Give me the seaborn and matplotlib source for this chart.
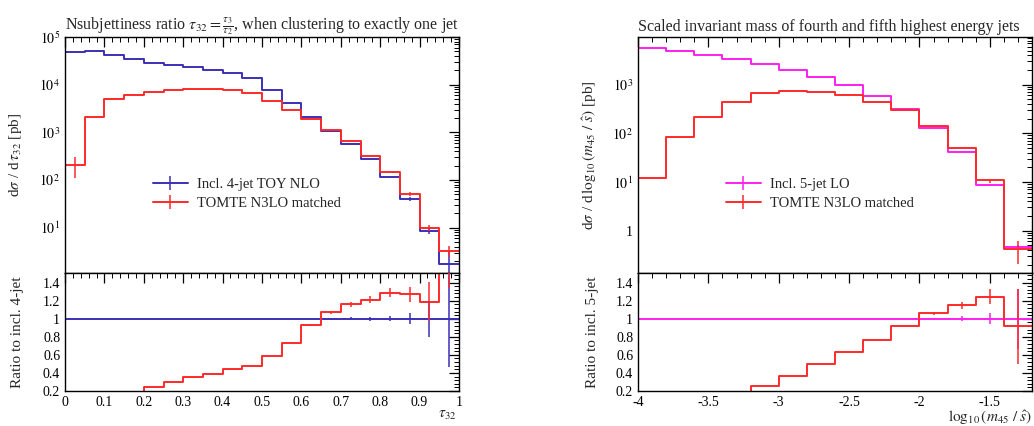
import numpy as np
import pandas as pd
import matplotlib
matplotlib.use("Agg")
import matplotlib.pyplot as plt
import seaborn as sns
from matplotlib.lines import Line2D
from matplotlib.ticker import MultipleLocator, LogLocator, NullFormatter, FormatStrFormatter

sns.set_theme(style="white")
plt.rcParams['font.family'] = ['Liberation Serif', 'DejaVu Serif']
plt.rcParams['mathtext.fontset'] = 'stix'

# ---------------- data: left panel (tau32) ----------------
tau_edges = [0.00, 0.05, 0.10, 0.15, 0.20, 0.25, 0.30, 0.35, 0.40, 0.45, 0.50,
             0.55, 0.60, 0.65, 0.70, 0.75, 0.80, 0.85, 0.90, 0.95, 1.00]
tau_nlo = [4.9e4, 5.2e4, 4.1e4, 3.4e4, 2.9e4, 2.6e4, 2.3e4, 2.05e4, 1.8e4, 1.4e4,
           7.8e3, 4.2e3, 2.1e3, 1.07e3, 5.7e2, 2.7e2, 1.16e2, 40, 8.6, 1.7]
tau_nlo_err = [0, 0, 0, 0, 0, 0, 0, 0, 0, 0, 0, 0, 10, 8, 6, 4, 3, 3, 1.2, 1.5]
tau_tomte = [2.1e2, 2.1e3, 4.9e3, 6.0e3, 7.0e3, 7.8e3, 8.0e3, 8.2e3, 7.8e3, 6.6e3,
             4.5e3, 3.0e3, 1.9e3, 1.12e3, 6.6e2, 3.2e2, 1.48e2, 51, 10, 3.3]
tau_tomte_err = [100, 30, 40, 40, 40, 40, 40, 40, 40, 40, 30, 20, 15, 12, 10, 6, 4, 5, 1.5, 0.9]
tau_ratio = [0.004, 0.04, 0.12, 0.18, 0.24, 0.30, 0.355, 0.39, 0.44, 0.48,
             0.585, 0.735, 0.93, 1.07, 1.16, 1.21, 1.29, 1.27, 1.19, 1.94]
tau_ratio_err = [0, 0, 0, 0, 0, 0, 0, 0, 0, 0, 0, 0.003, 0.01, 0.02, 0.03, 0.04, 0.05, 0.08, 0.22, 0.6]
tau_ref_err = [0, 0, 0, 0, 0, 0, 0, 0, 0, 0, 0, 0, 0.003, 0.01, 0.015, 0.02, 0.03, 0.06, 0.2, 0.53]

# ---------------- data: right panel (log10 m45/s) ----------------
m_edges = [-4.0, -3.8, -3.6, -3.4, -3.2, -3.0, -2.8, -2.6, -2.4, -2.2, -2.0,
           -1.8, -1.6, -1.4, -1.2]
m_lo = [5.7e3, 4.8e3, 4.0e3, 3.3e3, 2.6e3, 2.0e3, 1.44e3, 1.0e3, 5.8e2, 3.2e2,
        1.3e2, 42, 8.7, 0.45]
m_lo_err = [0, 0, 0, 0, 0, 0, 0, 0, 0, 0, 1, 1, 0.5, 0.05]
m_tomte = [12, 83, 2.15e2, 4.45e2, 6.6e2, 7.3e2, 7.1e2, 6.1e2, 4.45e2, 2.95e2,
           1.38e2, 50, 10.7, 0.41]
m_tomte_err = [0.5, 1, 2, 3, 4, 4, 4, 4, 3, 3, 2, 2, 1.0, 0.2]
m_ratio = [0.002, 0.017, 0.054, 0.135, 0.25, 0.37, 0.495, 0.63, 0.76, 0.915,
           1.06, 1.15, 1.245, 0.915]
m_ratio_err = [0, 0, 0, 0, 0, 0, 0, 0, 0, 0.005, 0.02, 0.04, 0.08, 0.42]
m_ref_err = [0, 0, 0, 0, 0, 0, 0, 0, 0, 0, 0.005, 0.03, 0.06, 0.33]

BLUE = '#3b2fb8'
RED = '#ff2a2a'
MAG = '#ff1ef0'
LW = 1.4
FS_LAB = 11
FS_TICK = 10

W, H = 1034, 426
fig = plt.figure(figsize=(W / 100, H / 100), dpi=100)


def fx(px):
    return px / W


def fy(py):
    return 1 - py / H


main_top, split, ratio_bot = 37, 273, 391
panels = [(65, 459), (638, 1032)]


def make_axes(l, r):
    axm = fig.add_axes([fx(l), fy(split), fx(r - l), fy(main_top) - fy(split)])
    axr = fig.add_axes([fx(l), fy(ratio_bot), fx(r - l), fy(split) - fy(ratio_bot)], sharex=axm)
    return axm, axr


def step(ax, edges, vals, color, zorder=2):
    y = list(vals) + [vals[-1]]
    df = pd.DataFrame({'x': edges, 'y': y})
    sns.lineplot(data=df, x='x', y='y', ax=ax, drawstyle='steps-post', color=color,
                 lw=LW, estimator=None, sort=False, zorder=zorder)


def errs(ax, edges, vals, err, color):
    e = np.asarray(edges)
    c = 0.5 * (e[:-1] + e[1:])
    v = np.asarray(vals, float)
    er = np.asarray(err, float)
    m = er > 0
    lo = np.minimum(er[m], v[m] * 0.999) if ax.get_yscale() == 'log' else er[m]
    ax.errorbar(c[m], v[m], yerr=[lo, er[m]], fmt='none', ecolor=color, elinewidth=1.1,
                capsize=0, zorder=3)


def style(ax, xmajor, xminor):
    ax.tick_params(which='both', direction='in', top=True, right=True, colors='black',
                   labelsize=FS_TICK)
    ax.tick_params(which='major', length=7, width=0.9)
    ax.tick_params(which='minor', length=3.5, width=0.7)
    ax.xaxis.set_major_locator(MultipleLocator(xmajor))
    ax.xaxis.set_minor_locator(MultipleLocator(xminor))
    for s in ax.spines.values():
        s.set_color('black')
        s.set_linewidth(1.0)
    ax.set_xlabel('')
    ax.set_ylabel('')


def legend_handle(color):
    return Line2D([0], [0], color=color, lw=LW, marker='|', markersize=10, markeredgewidth=1.1)


def log_fmt(v, p):
    if abs(v - 1) < 1e-9:
        return '1'
    return r'$10^{%d}$' % round(np.log10(v))


# ---------- left ----------
axm, axr = make_axes(*panels[0])
axm.set_yscale('log')
step(axm, tau_edges, tau_nlo, BLUE)
step(axm, tau_edges, tau_tomte, RED)
errs(axm, tau_edges, tau_nlo, tau_nlo_err, BLUE)
errs(axm, tau_edges, tau_tomte, tau_tomte_err, RED)
axm.set_xlim(0, 1)
axm.set_ylim(1.12, 1e5)
style(axm, 0.1, 0.02)
axm.yaxis.set_major_locator(LogLocator(base=10, numticks=10))
axm.yaxis.set_minor_locator(LogLocator(base=10, subs=np.arange(2, 10), numticks=20))
axm.yaxis.set_minor_formatter(NullFormatter())
axm.yaxis.set_major_formatter(matplotlib.ticker.FuncFormatter(log_fmt))
axm.tick_params(labelbottom=False)
axm.set_ylabel(r'd$\sigma$ / d$\,\tau_{32}$ [pb]', fontsize=FS_LAB)
axm.yaxis.set_label_coords(-0.104, 0.5)
axm.set_title(r'Nsubjettiness ratio $\tau_{32} = \frac{\tau_3}{\tau_2}$, when clustering to exactly one jet',
              loc='left', fontsize=11.5, pad=4)
axm.legend([legend_handle(BLUE), legend_handle(RED)],
           ['Incl. 4-jet TOY NLO', 'TOMTE N3LO matched'],
           loc='center left', bbox_to_anchor=(0.19, 0.335), frameon=False,
           fontsize=10.5, handlelength=2.4, labelspacing=0.45, handletextpad=0.6)

ones_t = [1.0] * len(tau_ratio)
step(axr, tau_edges, ones_t, BLUE)
step(axr, tau_edges, tau_ratio, RED)
errs(axr, tau_edges, ones_t, tau_ref_err, BLUE)
errs(axr, tau_edges, tau_ratio, tau_ratio_err, RED)
axr.set_ylim(0.2, 1.507)
style(axr, 0.1, 0.02)
axr.yaxis.set_major_locator(MultipleLocator(0.2))
axr.yaxis.set_minor_locator(MultipleLocator(0.04))
axr.yaxis.set_major_formatter(FormatStrFormatter('%g'))
axr.xaxis.set_major_formatter(FormatStrFormatter('%g'))
axr.set_ylabel('Ratio to incl. 4-jet', fontsize=FS_LAB)
axr.yaxis.set_label_coords(-0.104, 0.5)
axr.set_xlabel(r'$\tau_{32}$', fontsize=FS_LAB)
axr.xaxis.set_label_coords(0.995, -0.15)
axr.xaxis.label.set_ha('right')

# ---------- right ----------
axm2, axr2 = make_axes(*panels[1])
axm2.set_yscale('log')
step(axm2, m_edges, m_lo, MAG)
step(axm2, m_edges, m_tomte, RED)
errs(axm2, m_edges, m_lo, m_lo_err, MAG)
errs(axm2, m_edges, m_tomte, m_tomte_err, RED)
axm2.set_xlim(-4, -1.2)
axm2.set_ylim(0.134, 9.5e3)
style(axm2, 0.5, 0.1)
axm2.yaxis.set_major_locator(LogLocator(base=10, numticks=10))
axm2.yaxis.set_minor_locator(LogLocator(base=10, subs=np.arange(2, 10), numticks=20))
axm2.yaxis.set_minor_formatter(NullFormatter())
axm2.yaxis.set_major_formatter(matplotlib.ticker.FuncFormatter(log_fmt))
axm2.tick_params(labelbottom=False)
axm2.set_ylabel(r'd$\sigma$ / d$\,\log_{10}(m_{45}\ /\ \hat{s})$ [pb]', fontsize=FS_LAB)
axm2.yaxis.set_label_coords(-0.10, 0.5)
axm2.set_title('Scaled invariant mass of fourth and fifth highest energy jets',
               loc='left', fontsize=11.5, pad=4)
axm2.legend([legend_handle(MAG), legend_handle(RED)],
            ['Incl. 5-jet LO', 'TOMTE N3LO matched'],
            loc='center left', bbox_to_anchor=(0.19, 0.335), frameon=False,
            fontsize=10.5, handlelength=2.4, labelspacing=0.45, handletextpad=0.6)

ones_m = [1.0] * len(m_ratio)
step(axr2, m_edges, ones_m, MAG)
step(axr2, m_edges, m_ratio, RED)
errs(axr2, m_edges, ones_m, m_ref_err, MAG)
errs(axr2, m_edges, m_ratio, m_ratio_err, RED)
axr2.set_ylim(0.2, 1.507)
style(axr2, 0.5, 0.1)
axr2.yaxis.set_major_locator(MultipleLocator(0.2))
axr2.yaxis.set_minor_locator(MultipleLocator(0.04))
axr2.yaxis.set_major_formatter(FormatStrFormatter('%g'))
axr2.xaxis.set_major_formatter(FormatStrFormatter('%g'))
axr2.set_ylabel('Ratio to incl. 5-jet', fontsize=FS_LAB)
axr2.yaxis.set_label_coords(-0.10, 0.5)
axr2.set_xlabel(r'$\log_{10}(m_{45}\ /\ \hat{s})$', fontsize=FS_LAB)
axr2.xaxis.set_label_coords(1.0, -0.15)
axr2.xaxis.label.set_ha('right')

for ax in (axm, axm2):
    plt.setp(ax.get_xticklabels(), visible=False)

fig.savefig('out.png', dpi=100)
